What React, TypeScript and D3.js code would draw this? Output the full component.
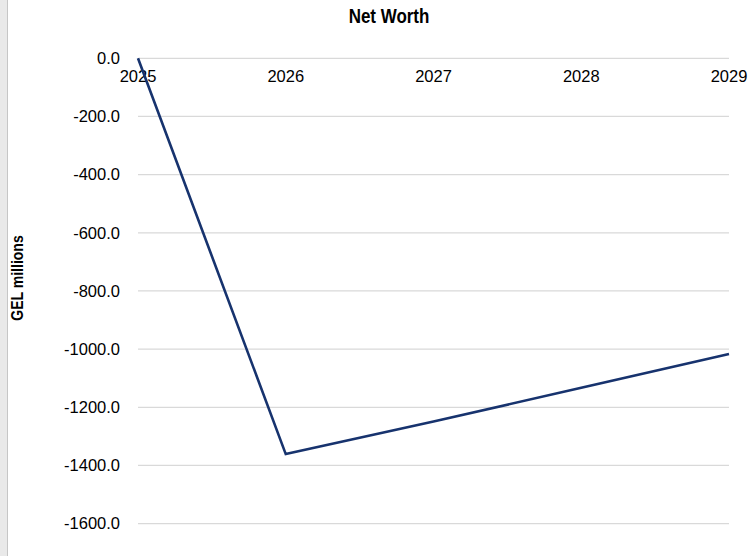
import React from "react";
import * as d3 from "d3";

const years = ["2025", "2026", "2027", "2028", "2029"];
const netWorth = [0, -1361, -1249, -1133, -1017];
const yTicks = [0, -200, -400, -600, -800, -1000, -1200, -1400, -1600];
const title = "Net Worth";
const yLabel = "GEL millions";

export default function App() {
  const W = 755;
  const H = 556;
  const x = d3.scalePoint<string>().domain(years).range([138, 729]);
  const y = d3.scaleLinear().domain([0, -1600]).range([58.3, 523.6]);
  const line = d3
    .line<number>()
    .x((_, i) => x(years[i]) as number)
    .y((d) => y(d));
  const sans = "'Liberation Sans', Arial, sans-serif";
  return (
    <svg
      width={W}
      height={H}
      style={{ position: "absolute", left: 0, top: 0, background: "#fff" }}
    >
      <rect x={0} y={0} width={7} height={H} fill="#e9e9e9" />
      <line x1={7.5} x2={7.5} y1={0} y2={H} stroke="#c6c6c6" strokeWidth={1} />
      <text
        transform="translate(389, 22.7) scale(0.87, 1)"
        textAnchor="middle"
        fontFamily={sans}
        fontWeight="bold"
        fontSize={19.5}
        fill="#000"
      >
        {title}
      </text>
      {yTicks.map((t) => (
        <g key={t}>
          <line
            x1={138}
            x2={729}
            y1={y(t)}
            y2={y(t)}
            stroke="#d9d9d9"
            strokeWidth={1.3}
          />
          <text
            x={120}
            y={y(t)}
            dy="0.35em"
            textAnchor="end"
            fontFamily={sans}
            fontSize={16.5}
            fill="#000"
          >
            {t.toFixed(1)}
          </text>
        </g>
      ))}
      {years.map((yr) => (
        <text
          key={yr}
          x={x(yr) as number}
          y={82}
          textAnchor="middle"
          fontFamily={sans}
          fontSize={16.5}
          fill="#000"
        >
          {yr}
        </text>
      ))}
      <text
        transform="translate(23.3, 278) rotate(-90) scale(0.85, 1)"
        textAnchor="middle"
        fontFamily={sans}
        fontWeight="bold"
        fontSize={16.5}
        fill="#000"
      >
        {yLabel}
      </text>
      <path
        d={line(netWorth) || ""}
        fill="none"
        stroke="#17336e"
        strokeWidth={2.6}
        strokeLinejoin="miter"
      />
    </svg>
  );
}
